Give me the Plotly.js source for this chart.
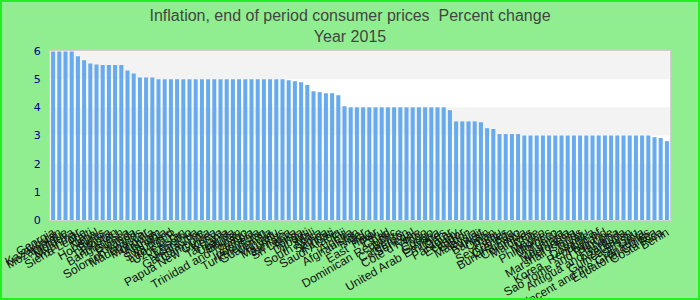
<!DOCTYPE html>
<html>
<head>
<meta charset="utf-8">
<script src="https://cdn.plot.ly/plotly-3.0.1.min.js"></script>
<style>
  html, body { margin: 0; padding: 0; background: #90EE90; }
  #chart { position: absolute; left: 0; top: 0; width: 700px; height: 300px; }
  #frame { position: absolute; left: 0; top: 0; width: 700px; height: 300px; box-sizing: border-box; border: 2px solid #22ee22; pointer-events: none; }
</style>
</head>
<body>
<div id="chart"></div>
<div id="frame"></div>
<script>
const countries = [
  "Georgia", "Kazakhstan", "Mozambique", "Moldova", "Myanmar", "Sierra Leone", "Haiti", "Nepal",
  "Honduras", "Bolivia", "Tajikistan", "Bangladesh", "Guinea", "Rwanda", "Solomon Islands", "Madagascar",
  "Mongolia", "Vietnam", "Namibia", "Swaziland", "Lao P.D.R.", "Uzbekistan", "Lesotho", "Nicaragua",
  "Gambia, The", "Cambodia", "Papua New Guinea", "Kenya", "Tanzania", "Uganda", "Bhutan", "Trinidad and Tobago",
  "Zambia", "Indonesia", "Turkmenistan", "Guatemala", "Vanuatu", "Mauritius", "Jamaica", "Sri Lanka",
  "Tonga", "Djibouti", "Mali", "South Africa", "Samoa", "Kiribati", "Saudi Arabia", "Fiji",
  "Algeria", "Afghanistan", "Niger", "Iraq", "East Timor", "Peru", "Chad", "Dominican Republic",
  "Belize", "Cameroon", "Senegal", "Côte d'Ivoire", "Togo", "Congo", "Guyana", "United Arab Emirates",
  "Qatar", "Paraguay", "Ecuador", "Gabon", "Malaysia", "Kuwait", "Bahrain", "Oman",
  "Palau", "Seychelles", "Grenada", "Burkina Faso", "Colombia", "Maldives", "Chile", "Mexico",
  "Philippines", "Morocco", "Tunisia", "Mauritania", "Micronesia", "Marshall Islands", "Tuvalu", "Dominica",
  "Korea, Republic of", "Thailand", "Sao Tome and Principe", "Panama", "Antigua and Barbuda", "Azerbaijan", "Guinea-Bissau", "St. Lucia",
  "Saint Vincent and the Grenadines", "Equatorial Guinea", "Costa Rica", "Benin"
];
const inflation = [
  5.98, 5.98, 5.98, 5.98, 5.81, 5.67, 5.56, 5.52,
  5.5, 5.5, 5.5, 5.5, 5.31, 5.2, 5.06, 5.06,
  5.06, 5.0, 5.0, 5.0, 5.0, 5.0, 5.0, 5.0,
  5.0, 5.0, 5.0, 5.0, 5.0, 5.0, 5.0, 5.0,
  5.0, 5.0, 5.0, 5.0, 5.0, 5.0, 4.96, 4.93,
  4.89, 4.79, 4.57, 4.54, 4.5, 4.5, 4.43, 4.04,
  4.0, 4.0, 4.0, 4.0, 4.0, 4.0, 4.0, 4.0,
  4.0, 4.0, 4.0, 4.0, 4.0, 4.0, 4.0, 4.0,
  3.9, 3.5, 3.5, 3.5, 3.5, 3.47, 3.26, 3.23,
  3.05, 3.05, 3.05, 3.05, 3.0, 3.0, 3.0, 3.0,
  3.0, 3.0, 3.0, 3.0, 3.0, 3.0, 3.0, 3.0,
  3.0, 3.0, 3.0, 3.0, 3.0, 3.0, 3.0, 3.0,
  3.0, 2.94, 2.91, 2.8
];
const yTicks = [0, 1, 2, 3, 4, 5, 6];
const shadedBands = [[1, 2], [3, 4], [5, 6]];

const trace = {
  type: "bar",
  x: countries,
  y: inflation,
  marker: { color: "#66aaf0" },
  hoverinfo: "x+y"
};

const shapes = shadedBands.map(b => ({
  type: "rect", xref: "paper", yref: "y", x0: 0, x1: 1, y0: b[0], y1: b[1],
  fillcolor: "#f3f3f3", line: { width: 0 }, layer: "below"
}));

const layout = {
  width: 700, height: 300,
  paper_bgcolor: "#90EE90",
  plot_bgcolor: "#ffffff",
  margin: { l: 50, r: 30, t: 51, b: 80 },
  title: {
    text: "Inflation, end of period consumer prices  Percent change<br>Year 2015",
    font: { family: "Liberation Sans, Arial, sans-serif", size: 16, color: "#444444" },
    x: 0.5, xanchor: "center", yref: "container", y: 0.93, yanchor: "middle"
  },
  bargap: 0.35,
  showlegend: false,
  shapes: shapes,
  xaxis: {
    type: "category",
    tickmode: "linear", tick0: 0, dtick: 1,
    tickangle: -30,
    tickfont: { family: "Liberation Sans, Arial, sans-serif", size: 12, color: "#111111" },
    showgrid: false, zeroline: false,
    showline: true, linecolor: "#d0d0d0", linewidth: 1, mirror: true,
    ticks: ""
  },
  yaxis: {
    range: [0, 6],
    tickmode: "array", tickvals: yTicks, ticktext: yTicks.map(String),
    tickfont: { family: "DejaVu Sans, sans-serif", size: 11, color: "#000080" },
    ticklabelstandoff: 6,
    showgrid: false, zeroline: false,
    showline: true, linecolor: "#d0d0d0", linewidth: 1, mirror: true,
    ticks: ""
  }
};

Plotly.newPlot("chart", [trace], layout, { displayModeBar: false, staticPlot: true });
</script>
</body>
</html>
